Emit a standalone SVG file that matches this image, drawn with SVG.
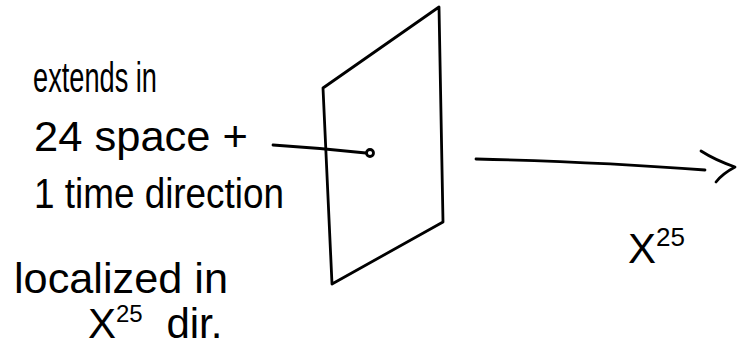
<svg xmlns="http://www.w3.org/2000/svg" width="738" height="350" viewBox="0 0 738 350">
<style>
.ink{fill:none;stroke:#000;stroke-width:2.8;stroke-linecap:round;stroke-linejoin:round}
.t{font-family:"Liberation Sans",Arial,sans-serif;font-size:42px;fill:#000}
</style>
<rect width="738" height="350" fill="#fff"/>
<g id="labels">
<text class="t" x="33" y="92" font-size="36" textLength="124" lengthAdjust="spacingAndGlyphs">extends in</text>
<text class="t" x="34" y="151" textLength="214" lengthAdjust="spacingAndGlyphs">24 space +</text>
<text class="t" x="34" y="208" textLength="250" lengthAdjust="spacingAndGlyphs">1 time direction</text>
<text class="t" x="14" y="293" textLength="214" lengthAdjust="spacingAndGlyphs">localized in</text>
<text class="t" x="88" y="338">X<tspan font-size="24" dy="-16">25</tspan><tspan dy="16" dx="12"> dir.</tspan></text>
<text class="t" x="628" y="263">X<tspan font-size="26" dy="-17">25</tspan></text>
</g>
<g id="brane">
<path class="ink" d="M323,88 L439,7 L443,222 L332,284 Z"/>
<circle cx="370" cy="153" r="3.5" class="ink"/>
</g>
<g id="connectors">
<path class="ink" d="M273,145 Q320,148 366,153"/>
<path class="ink" d="M476,159 Q600,162 705,170"/>
<path class="ink" d="M701,151 Q715,160 735,167 Q722,174 716,182"/>
</g>
</svg>
